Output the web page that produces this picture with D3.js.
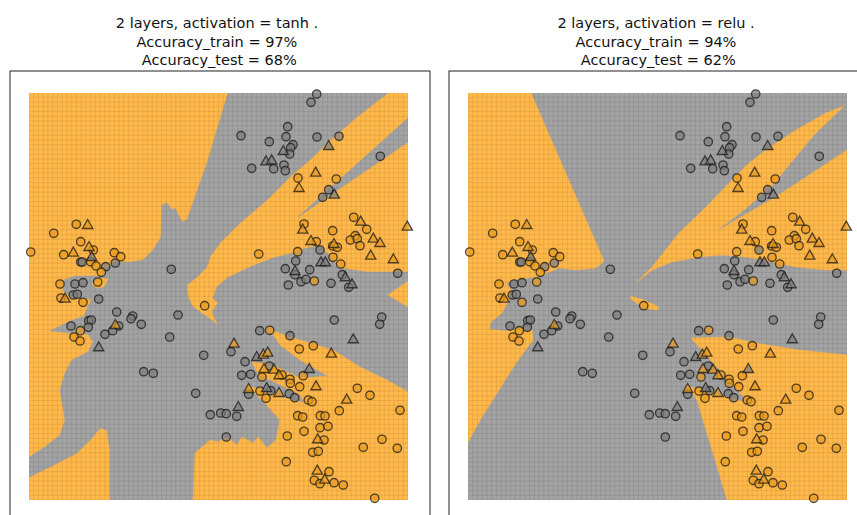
<!DOCTYPE html>
<html>
<head>
<meta charset="utf-8">
<script src="https://cdn.jsdelivr.net/npm/d3@7"></script>
<style>
  body { margin: 0; background: #fff; }
  text { font-family: "DejaVu Sans", sans-serif; white-space: pre; }
</style>
</head>
<body>
<svg id="chart" width="857" height="515"></svg>
<script>
// ---- data (feature units) ----
const trainOrange = [
  [4.73,27.57],[2.47,26.67],[5.17,25.83],[6.43,25.0],[0.17,24.8],[3.47,24.53],[8.53,24.73],[9.17,24.33],
  [6.17,23.83],[6.7,23.4],[7.23,22.77],[3.1,21.6],[6.87,21.8],[3.2,20.2],[5.4,19.77],[17.57,19.43],
  [5.13,16.93],[4.5,16.3],[5.1,15.9],[26.9,32.2],[30.73,32.1],[32.47,28.27],[33.77,27.07],[27.5,27.6],
  [30.37,26.93],[32.63,26.43],[32.13,26.0],[32.83,26.13],[33.1,25.43],[28.73,25.83],[30.37,25.4],[30.83,25.27],
  [22.97,24.6],[26.87,24.83],[30.4,24.27],[31.17,23.6],[28.53,21.9],[24.07,16.97],[27.03,15.1],[28.43,15.43],
  [23.3,12.3],[27.43,12.43],[25.3,12.5],[26.1,12.07],[26.13,11.67],[27.07,11.33],[23.1,10.9],[23.7,10.17],
  [27.93,10.0],[28.3,9.83],[32.83,11.17],[34.1,10.47],[37.1,8.97],[26.87,8.43],[27.37,8.3],[31.03,8.93],
  [29.13,8.43],[29.6,8.4],[29.1,7.23],[29.9,7.37],[25.83,6.4],[27.5,6.87],[29.5,6.0],[35.3,6.07],
  [33.43,5.27],[36.83,5.17],[28.37,4.77],[28.93,4.87],[25.73,3.83],[30.0,2.83],[28.53,1.97],[29.1,1.63],
  [30.5,1.73],[31.43,1.5],[34.57,0.17]
];
const testOrange = [
  [5.87,27.53],[6.0,25.33],[4.43,24.77],[3.6,20.17],[8.63,17.53],[28.67,32.77],[27.0,31.23],[33.17,27.87],
  [27.37,27.07],[34.43,26.17],[35.1,25.73],[37.83,27.37],[28.2,25.93],[30.5,25.63],[34.17,24.47],[36.43,24.1],
  [20.5,15.67],[30.23,14.67],[23.43,14.57],[23.87,14.77],[23.5,13.13],[24.5,13.07],[25.0,12.5],[28.7,11.4],
  [21.97,11.13],[25.0,10.73],[31.77,10.07],[28.87,6.1],[28.83,2.97],[29.57,2.07]
];
const trainGray = [
  [5.17,23.8],[5.33,23.8],[7.67,23.33],[8.63,23.7],[14.23,23.07],[4.6,21.6],[5.4,21.73],[4.43,20.5],
  [4.83,20.57],[6.97,20.1],[8.77,18.8],[10.37,18.4],[10.2,18.13],[11.23,17.57],[14.9,18.5],[4.2,17.4],
  [5.97,17.93],[6.23,18.0],[5.93,17.27],[7.6,16.57],[8.37,16.93],[8.97,17.4],[14.07,16.3],[17.47,14.47],
  [20.2,14.83],[11.47,12.83],[12.43,12.67],[16.67,10.67],[18.13,8.53],[19.17,8.7],[19.73,8.63],[20.77,8.37],
  [19.73,6.3],[28.77,40.6],[28.2,39.77],[25.87,37.33],[21.2,36.43],[25.7,36.33],[28.8,36.3],[31.0,36.37],
  [24.03,35.83],[26.4,35.53],[26.17,35.23],[26.07,34.6],[25.5,33.5],[22.27,33.17],[24.47,33.13],[25.63,32.93],
  [35.13,34.37],[29.97,31.03],[29.37,30.27],[29.1,25.0],[26.67,23.9],[25.63,23.13],[28.07,23.03],[36.87,22.67],
  [26.6,22.53],[27.2,21.83],[27.7,22.07],[25.93,21.5],[30.2,21.67],[31.33,22.53],[31.97,21.27],[30.53,18.0],
  [35.27,18.3],[35.07,17.57],[23.07,16.93],[26.1,16.43],[21.6,13.83],[24.03,13.4],[21.27,12.47],[22.17,12.57],
  [21.97,10.57],[24.17,10.93],[26.03,10.63],[26.57,10.23]
];
const testGray = [
  [6.27,24.33],[6.97,15.3],[25.43,34.93],[29.97,35.43],[23.7,33.9],[24.27,34.0],[30.53,30.57],[29.2,23.8],
  [29.63,23.8],[26.6,22.93],[31.63,22.3],[32.3,21.6],[32.43,16.1],[22.77,14.33],[28.03,13.13],[23.77,11.23],
  [20.93,9.33]
];

// decision regions, tanh model (background = orange class)
const tanhGray = [
  [[19.9,40.7],[35.9,40.7],[32.8,38.3],[29.8,35.7],[28.1,34.0],[26.3,32.5],[23.8,30.0],[21.1,27.7],[19.1,25.7],
   [18.1,24.3],[17.8,23.3],[16.8,22.3],[15.8,21.5],[15.9,20.3],[16.4,19.3],[17.8,18.3],[18.9,17.5],[18.3,18.8],
   [18.9,19.7],[18.4,20.2],[18.8,21.3],[19.8,22.2],[22.1,23.3],[24.4,24.2],[26.4,24.7],[28.1,25.3],[29.1,25.4],
   [29.8,24.7],[31.1,23.2],[33.8,22.8],[37.9,22.8],[37.9,0],[8.1,0],[8.1,5.0],[7.8,7.0],[7.1,7.2],[6.4,6.3],
   [4.8,4.7],[2.1,3.3],[0,2.3],[0,4.3],[1.6,5.3],[3.1,6.5],[3.6,8.0],[3.1,11.0],[3.6,12.7],[4.3,14.0],[5.9,14.8],
   [6.4,15.8],[5.9,16.6],[4.1,16.7],[2.1,16.9],[3.9,17.8],[5.5,18.4],[5.9,19.4],[6.3,20.0],[5.7,20.2],[4.1,20.3],
   [3.4,21.0],[3.5,22.0],[4.6,22.4],[6.6,22.4],[7.1,22.4],[7.7,23.1],[8.3,23.6],[9.1,23.8],[10.1,23.8],[11.4,24.0],
   [12.4,25.0],[13.2,26.3],[13.3,29.5],[13.8,29.7],[14.3,29.0],[14.6,29.2],[15.3,27.8],[15.8,28.0],[17.9,34.0]],
  [[37.9,38.2],[26.9,28.3],[37.9,35.8]]
];
const tanhOrange = [
  [[37.9,21.9],[35.9,20.5],[37.9,19.3]],
  [[6.3,21.6],[7.1,22.2],[7.9,22.1],[7.5,21.3],[6.7,21.2]],
  [[16.4,0],[16.6,4.7],[17.3,5.3],[18.1,6.0],[18.9,5.8],[19.8,6.3],[20.8,5.5],[21.3,6.3],[22.4,5.7],[22.9,6.3],
   [23.8,5.2],[24.7,6.0],[25.1,8.0],[23.3,10.0],[21.7,11.5],[23.3,11.0],[25.6,10.2],[27.6,9.7],[27.1,10.5],
   [24.6,11.8],[22.9,12.6],[22.3,13.8],[24.1,13.6],[27.1,12.2],[29.9,12.4],[27.1,14.0],[25.1,15.5],[24.1,17.0],
   [27.1,16.0],[30.4,15.0],[33.1,13.3],[35.8,12.0],[37.9,10.8],[37.9,0]]
];

// decision regions, relu model (background = gray class)
const reluOrange = [
  [[0,40.7],[6.3,40.7],[13.6,23.9],[12.8,23.2],[10.8,23.0],[9.1,23.2],[8.1,22.8],[6.8,22.3],[5.1,22.1],[3.8,21.7],
   [4.3,21.0],[4.1,20.0],[3.4,18.7],[2.3,17.8],[2.1,17.1],[3.6,16.9],[5.1,17.1],[6.4,17.0],[6.5,16.0],[4.8,13.7],
   [3.1,11.0],[1.4,8.3],[0,5.8]],
  [[16.9,21.8],[18.4,23.3],[21.1,26.7],[23.8,29.3],[26.4,32.0],[28.1,33.7],[29.8,35.0],[32.8,37.0],[35.8,38.7],
   [37.6,39.4],[37.4,39.2],[34.6,36.5],[32.1,33.5],[30.3,31.3],[27.6,29.0],[24.6,26.7],[27.1,28.2],[30.6,30.2],
   [34.1,32.5],[37.9,35.0],[37.9,23.0],[35.8,23.0],[32.8,23.3],[30.4,23.8],[27.8,24.3],[25.4,24.5],[23.1,24.3],
   [20.4,23.8],[18.4,23.0]],
  [[16.2,20.4],[17.6,20.0],[19.1,19.3],[18.9,19.0],[17.6,19.2],[16.4,20.0]],
  [[22.3,16.2],[26.1,16.3],[28.8,15.7],[33.1,15.0],[37.9,14.5],[37.9,0],[25.9,0],[24.8,3.7],[23.8,7.0],
   [22.9,10.0],[21.9,11.4],[28.1,9.7]]
];

const titles = [
  ['2 layers, activation = tanh .', 'Accuracy_train = 97%', ' Accuracy_test = 68%'],
  ['2 layers, activation = relu .', 'Accuracy_train = 94%', ' Accuracy_test = 62%']
];

// ---- drawing ----
const ORANGE_BG = '#ffb84a', GRAY_BG = '#a3a3a3';
const xDomain = [0, 37.9], yDomain = [0, 40.7];
const gridStep = 37.9 / 80;

const svg = d3.select('#chart');
const x = d3.scaleLinear().domain(xDomain).range([19, 398]);
const y = d3.scaleLinear().domain(yDomain).range([429, 22]);
const line = d3.line().x(d => x(d[0])).y(d => y(d[1]));

const panels = [
  { left: 10, bg: ORANGE_BG, layers: [[tanhGray, GRAY_BG], [tanhOrange, ORANGE_BG]], title: titles[0] },
  { left: 449, bg: GRAY_BG, layers: [[reluOrange, ORANGE_BG]], title: titles[1] }
];

panels.forEach((p, i) => {
  const g = svg.append('g').attr('transform', `translate(${p.left},71)`);

  g.append('clipPath').attr('id', 'clip' + i)
    .append('rect')
    .attr('x', x(xDomain[0])).attr('y', y(yDomain[1]))
    .attr('width', x(xDomain[1]) - x(xDomain[0]))
    .attr('height', y(yDomain[0]) - y(yDomain[1]));

  const area = g.append('g').attr('clip-path', `url(#clip${i})`);
  area.append('rect')
    .attr('x', x(xDomain[0])).attr('y', y(yDomain[1]))
    .attr('width', x(xDomain[1]) - x(xDomain[0]))
    .attr('height', y(yDomain[0]) - y(yDomain[1]))
    .attr('fill', p.bg);

  p.layers.forEach(([polys, col]) => {
    area.selectAll(null).data(polys).enter().append('path')
      .attr('d', d => line(d) + 'Z')
      .attr('fill', col)
      .attr('stroke', col).attr('stroke-width', 0.5);
  });

  // mesh grid lines
  const gx = d3.range(xDomain[0], xDomain[1] + 1e-6, gridStep);
  const gy = d3.range(yDomain[0], yDomain[1] + 1e-6, gridStep);
  area.selectAll('line.gx').data(gx).enter().append('line')
    .attr('x1', d => x(d)).attr('x2', d => x(d))
    .attr('y1', y(yDomain[0])).attr('y2', y(yDomain[1]))
    .attr('stroke', '#000').attr('stroke-opacity', 0.13).attr('stroke-width', 0.6);
  area.selectAll('line.gy').data(gy).enter().append('line')
    .attr('y1', d => y(d)).attr('y2', d => y(d))
    .attr('x1', x(xDomain[0])).attr('x2', x(xDomain[1]))
    .attr('stroke', '#000').attr('stroke-opacity', 0.13).attr('stroke-width', 0.6);

  // points
  const pts = g.append('g');
  const addCircles = (data, fill) => pts.selectAll(null).data(data).enter().append('circle')
    .attr('cx', d => x(d[0])).attr('cy', d => y(d[1])).attr('r', 4.2)
    .attr('fill', fill).attr('fill-opacity', 0.7)
    .attr('stroke', '#1a1a1a').attr('stroke-opacity', 0.75).attr('stroke-width', 1.3);
  const tri = d3.symbol(d3.symbolTriangle).size(46);
  const addTriangles = (data, fill) => pts.selectAll(null).data(data).enter().append('path')
    .attr('d', tri)
    .attr('transform', d => `translate(${x(d[0])},${y(d[1]) + 0.8})`)
    .attr('fill', fill).attr('fill-opacity', 0.7)
    .attr('stroke', '#1a1a1a').attr('stroke-opacity', 0.75).attr('stroke-width', 1.3);
  addCircles(trainGray, '#7c7c7c');
  addCircles(trainOrange, '#e89a1c');
  addTriangles(testGray, '#7c7c7c');
  addTriangles(testOrange, '#e89a1c');

  // axes frame
  g.append('rect').attr('x', 0).attr('y', 0).attr('width', 420).attr('height', 460)
    .attr('fill', 'none').attr('stroke', '#222').attr('stroke-width', 1);

  // title
  g.append('g').selectAll('text').data(p.title).enter().append('text')
    .attr('x', 207).attr('y', (d, k) => -48 + k * 18.5)
    .attr('text-anchor', 'middle').attr('dominant-baseline', 'central')
    .attr('font-size', 14.5).attr('fill', '#111')
    .text(d => d);
});
</script>
</body>
</html>
